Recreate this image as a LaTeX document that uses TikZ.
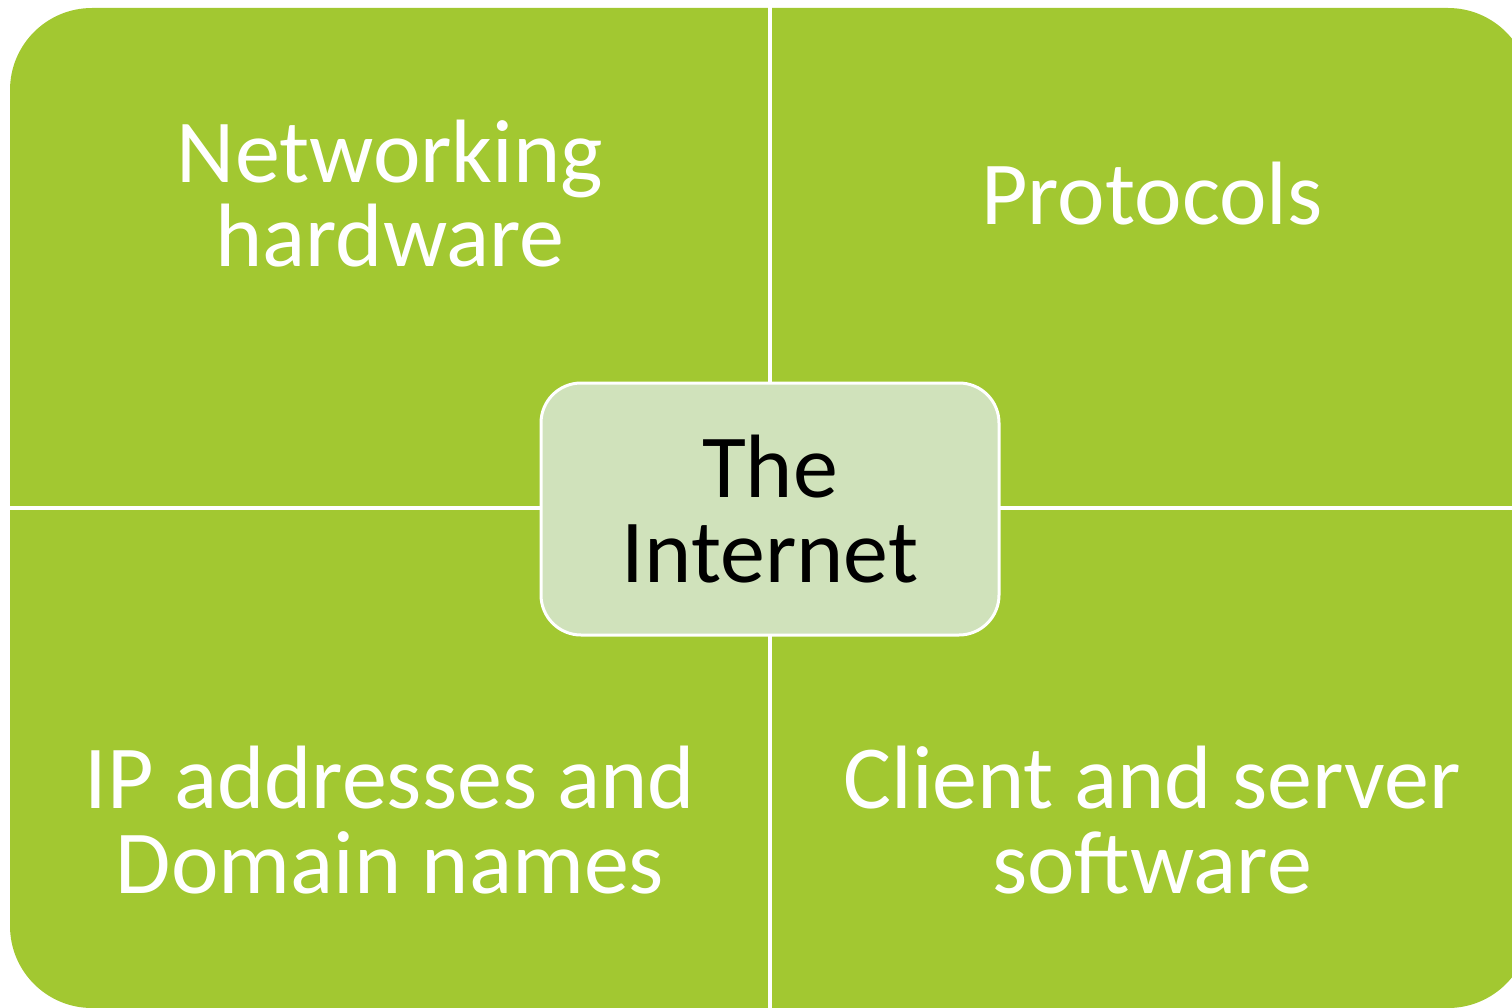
\documentclass[tikz,border=0pt]{standalone}
\usepackage{fontspec}
\setmainfont{Carlito}
\usepackage{tikz}
\usetikzlibrary{positioning}
\definecolor{leafgreen}{HTML}{A2C831}
\definecolor{palegreen}{HTML}{D0E2BB}
\tikzset{%
	quadrant/.style = {fill=leafgreen, rounded corners=82pt},
	divider/.style  = {draw=white, line width=4pt},
	quadtext/.style = {text=white, align=center, anchor=base, font=\fontsize{90}{85}\selectfont},
	hub/.style      = {draw=white, line width=3pt, fill=palegreen, rectangle, rounded corners=40pt, minimum width=458pt, minimum height=252pt, text=black, align=center, font=\fontsize{90}{85}\selectfont},
}
\begin{document}
\begin{tikzpicture}[x=1pt,y=-1pt]
			\useasboundingbox (0,0) rectangle (1512,1008);
			\clip (0,0) rectangle (1512,1008);
			\fill[quadrant] (10,8) rectangle (1530,1008);
			\draw[divider] (770,0) -- (770,1008);
			\draw[divider] (0,508) -- (1530,508);
			\node[quadtext] (hw) at (390,267) {Networking\\hardware};
			\node[quadtext] (proto) at (1152,225) {Protocols};
			\node[quadtext] (ipdns) at (390,893) {IP addresses and\\Domain names};
			\node[quadtext] (clisrv) at (1152,893) {Client and server\\software};
			\node[hub] (inet) at (770,509) {The\\Internet};
			\end{tikzpicture}
\end{document}
